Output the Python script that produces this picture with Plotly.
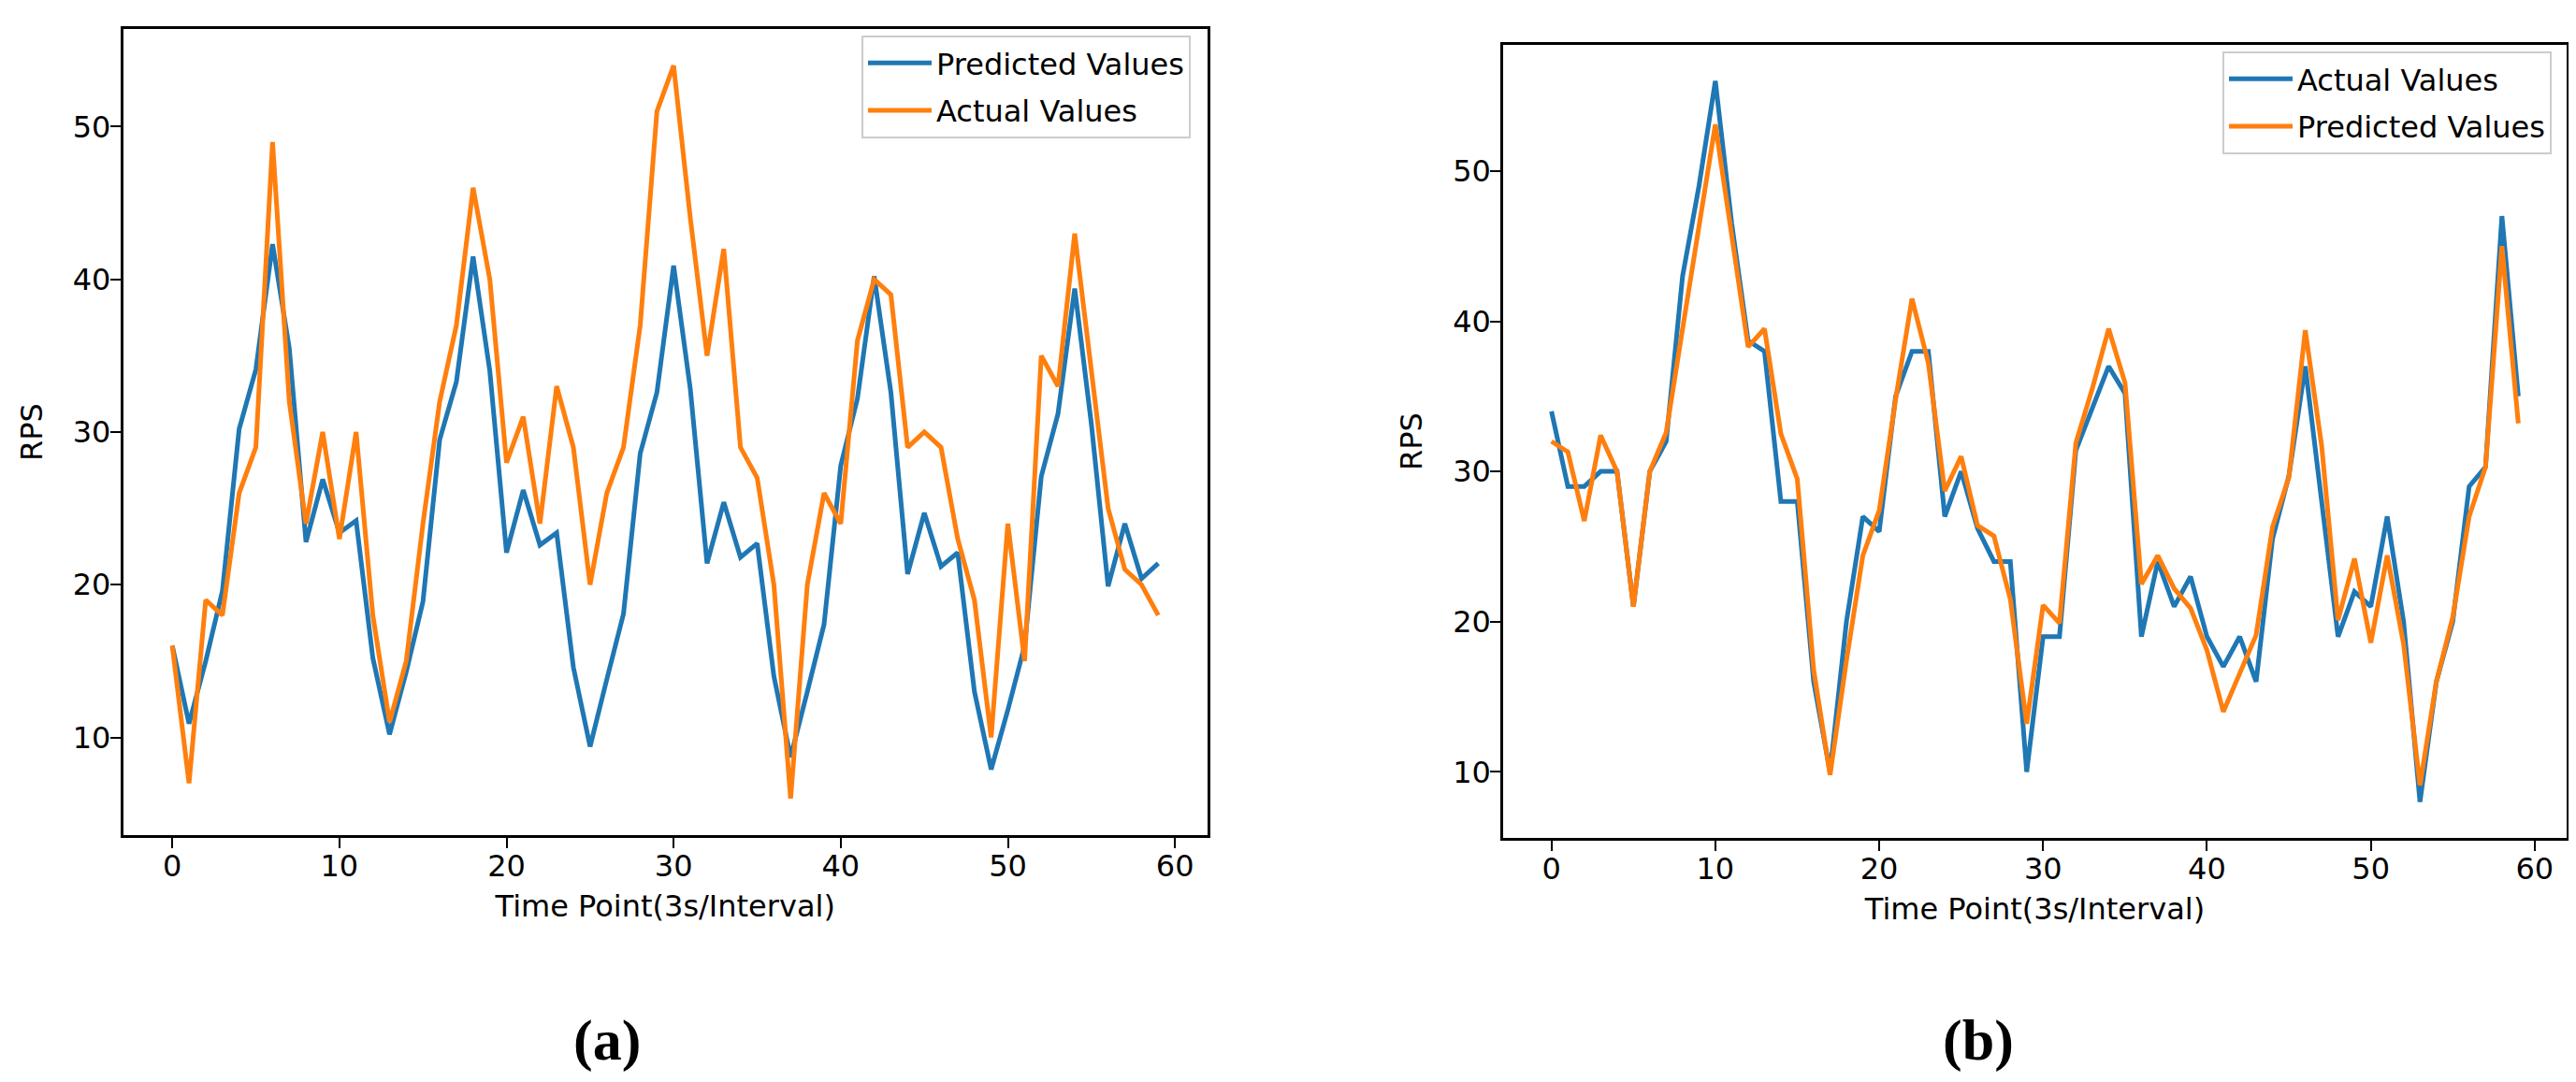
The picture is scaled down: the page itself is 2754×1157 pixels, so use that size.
import plotly.graph_objects as go

# ---- data ----
time_points = list(range(60))

# panel (a)
a_predicted = [16, 10.9, 15, 19.6, 30.2, 34.1, 42.3, 35.5, 22.8, 26.9,
               23.4, 24.2, 15.2, 10.2, 14.3, 18.9, 29.5, 33.3, 41.5, 34,
               22.1, 26.2, 22.6, 23.4, 14.6, 9.4, 13.8, 18.1, 28.6, 32.6,
               40.9, 32.8, 21.4, 25.4, 21.8, 22.7, 14.0, 8.7, 13.0, 17.4,
               27.8, 32.2, 40.2, 32.6, 20.7, 24.7, 21.2, 22.1, 13.0, 7.9,
               11.8, 16.0, 27.1, 31.2, 39.4, 30.5, 19.9, 24.0, 20.4, 21.4]
a_actual = [16, 7, 19, 18, 26, 29, 49, 32, 24, 30,
            23, 30, 18, 11, 15, 24, 32, 37, 46, 40,
            28, 31, 24, 33, 29, 20, 26, 29, 37, 51,
            54, 44, 35, 42, 29, 27, 20, 6, 20, 26,
            24, 36, 40, 39, 29, 30, 29, 23, 19, 10,
            24, 15, 35, 33, 43, 34, 25, 21, 20, 18]

# panel (b)
b_actual = [34, 29, 29, 30, 30, 21, 30, 32, 43, 49,
            56, 46.5, 38.7, 38, 28, 28, 16, 10, 20, 27,
            26, 35, 38, 38, 27, 30, 26.2, 24, 24, 10,
            19, 19, 31.4, 34.2, 37, 35.2, 19, 24, 21, 23,
            19, 17, 19, 16, 25.5, 29.7, 37, 28, 19, 22,
            21, 27, 20, 8, 16, 20, 29, 30.3, 47, 35]
b_predicted = [32, 31.3, 26.7, 32.4, 30, 21, 30, 32.6, 39.5, 46.3,
               53.1, 45.7, 38.3, 39.5, 32.5, 29.5, 16.8, 9.8, 17.4, 24.4,
               27.4, 34.8, 41.5, 37.2, 28.7, 31, 26.4, 25.7, 21.5, 13.2,
               21.1, 19.9, 31.9, 35.5, 39.5, 35.9, 22.5, 24.4, 22.2, 20.9,
               18.1, 14, 16.5, 19.1, 26.3, 29.6, 39.4, 31.7, 20.1, 24.2,
               18.6, 24.4, 18.5, 9.1, 16, 20.3, 27, 30.3, 45, 33.2]

x_ticks = [0, 10, 20, 30, 40, 50, 60]
y_ticks = [10, 20, 30, 40, 50]
x_title = "Time Point(3s/Interval)"
y_title = "RPS"
panel_labels = ["(a)", "(b)"]

BLUE = "#1f77b4"
ORANGE = "#ff7f0e"
FONT = "DejaVu Sans"
FS = 32
LW = 5


def mpl_range(*series):
    lo = min(min(s) for s in series)
    hi = max(max(s) for s in series)
    pad = 0.05 * (hi - lo)
    return [lo - pad, hi + pad]


fig = go.Figure()

fig.add_trace(go.Scatter(x=time_points, y=a_predicted, mode="lines", name="Predicted Values",
                         line=dict(color=BLUE, width=LW), xaxis="x", yaxis="y",
                         legend="legend", legendgroup="a1"))
fig.add_trace(go.Scatter(x=time_points, y=a_actual, mode="lines", name="Actual Values",
                         line=dict(color=ORANGE, width=LW), xaxis="x", yaxis="y",
                         legend="legend", legendgroup="a2"))
fig.add_trace(go.Scatter(x=time_points, y=b_actual, mode="lines", name="Actual Values",
                         line=dict(color=BLUE, width=LW), xaxis="x2", yaxis="y2",
                         legend="legend2", legendgroup="b1"))
fig.add_trace(go.Scatter(x=time_points, y=b_predicted, mode="lines", name="Predicted Values",
                         line=dict(color=ORANGE, width=LW), xaxis="x2", yaxis="y2",
                         legend="legend2", legendgroup="b2"))

W, H = 2754, 1157

axis_common = dict(showline=True, linecolor="black", linewidth=2.5, mirror=True,
                   ticks="outside", ticklen=11, tickwidth=2, tickcolor="black",
                   showgrid=False, zeroline=False,
                   tickfont=dict(family=FONT, size=FS, color="black"))

legend_common = dict(xanchor="right", yanchor="top", xref="paper", yref="paper",
                     bgcolor="rgba(255,255,255,0.8)", bordercolor="#cccccc", borderwidth=2,
                     font=dict(family=FONT, size=FS), itemwidth=68, tracegroupgap=6)

xr = mpl_range(time_points)
fig.update_layout(
    width=W, height=H,
    margin=dict(l=0, r=0, t=0, b=0),
    paper_bgcolor="white", plot_bgcolor="white",
    font=dict(family=FONT, size=FS, color="black"),
    xaxis=dict(domain=[123.5 / W, 1283 / W], range=xr, tickvals=x_ticks, anchor="y",
               ticklabelstandoff=-8,
               title=dict(text=x_title, font=dict(family=FONT, size=FS), standoff=14), **axis_common),
    yaxis=dict(domain=[1 - 885 / H, 1 - 23 / H], range=mpl_range(a_predicted, a_actual),
               tickvals=y_ticks, anchor="x", ticklabelstandoff=-7,
               title=dict(text=y_title, font=dict(family=FONT, size=FS), standoff=23), **axis_common),
    xaxis2=dict(domain=[1599 / W, 2736 / W], range=xr, tickvals=x_ticks, anchor="y2",
                ticklabelstandoff=-8,
                title=dict(text=x_title, font=dict(family=FONT, size=FS), standoff=14), **axis_common),
    yaxis2=dict(domain=[1 - 888 / H, 1 - 40 / H], range=mpl_range(b_actual, b_predicted),
                tickvals=y_ticks, anchor="x2", ticklabelstandoff=-7,
                title=dict(text=y_title, font=dict(family=FONT, size=FS), standoff=23), **axis_common),
    legend=dict(x=1265 / W, y=1 - 30 / H, **legend_common),
    legend2=dict(x=2720 / W, y=1 - 47 / H, **legend_common),
    showlegend=True,
)

for label, xc in zip(panel_labels, [641 / W, 2107 / W]):
    fig.add_annotation(text="<b>" + label + "</b>", x=xc, y=1 - 1104 / H, xref="paper", yref="paper",
                       xanchor="center", yanchor="middle", showarrow=False,
                       font=dict(family="Liberation Serif", size=62, color="black"))

fig.write_html("out.html")
